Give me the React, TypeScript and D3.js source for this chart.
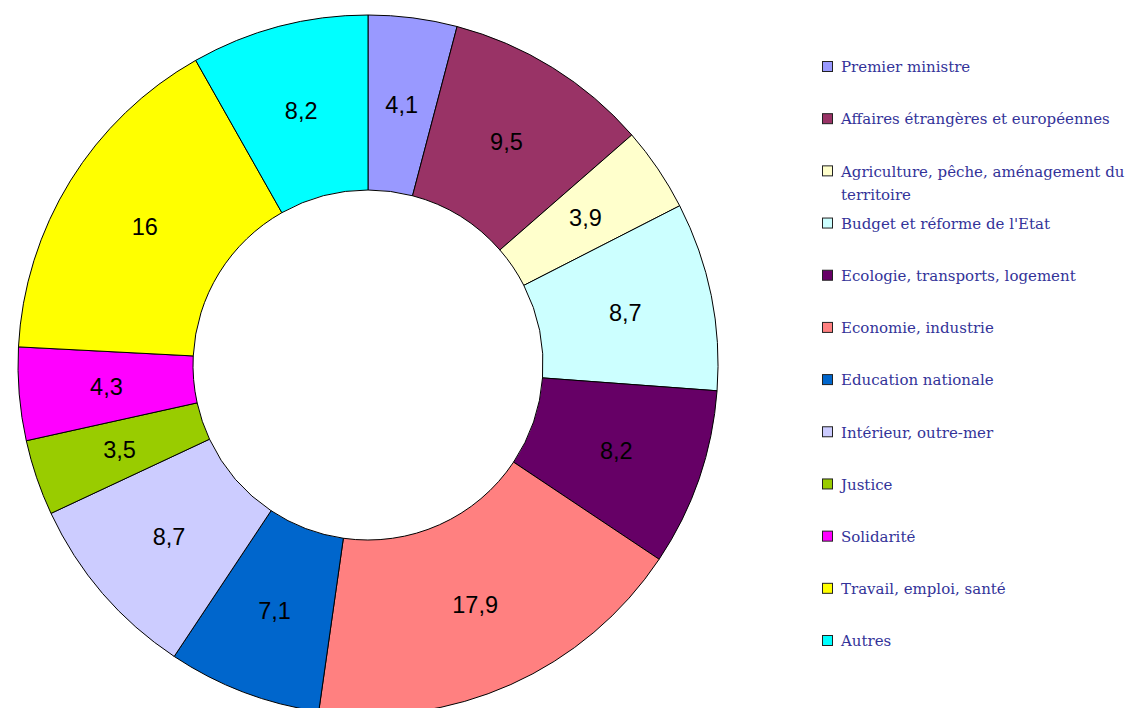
import React from 'react';
import * as d3 from 'd3';

const categories = [
  'Premier ministre',
  'Affaires étrangères et européennes',
  'Agriculture, pêche, aménagement du territoire',
  "Budget et réforme de l'Etat",
  'Ecologie, transports, logement',
  'Economie, industrie',
  'Education nationale',
  'Intérieur, outre-mer',
  'Justice',
  'Solidarité',
  'Travail, emploi, santé',
  'Autres',
];
const values = [4.1, 9.5, 3.9, 8.7, 8.2, 17.9, 7.1, 8.7, 3.5, 4.3, 16, 8.2];
const valueLabels = ['4,1', '9,5', '3,9', '8,7', '8,2', '17,9', '7,1', '8,7', '3,5', '4,3', '16', '8,2'];
const colors = [
  '#9999FF', '#993366', '#FFFFCC', '#CCFFFF', '#660066', '#FF8080',
  '#0066CC', '#CCCCFF', '#99CC00', '#FF00FF', '#FFFF00', '#00FFFF',
];
// legend lines (wrapped as in the original)
const legendLines = [
  ['Premier ministre'],
  ['Affaires étrangères et européennes'],
  ['Agriculture, pêche, aménagement du', 'territoire'],
  ["Budget et réforme de l'Etat"],
  ['Ecologie, transports, logement'],
  ['Economie, industrie'],
  ['Education nationale'],
  ['Intérieur, outre-mer'],
  ['Justice'],
  ['Solidarité'],
  ['Travail, emploi, santé'],
  ['Autres'],
];

const W = 1132;
const H = 708;
const CX = 368;
const CY = 365;
const R_OUT = 350;
const R_IN = 175;

export default function App() {
  const pie = d3.pie<number>().sort(null).value(d => d)(values);
  const arc = d3.arc<d3.PieArcDatum<number>>().innerRadius(R_IN).outerRadius(R_OUT);

  const legendY = d3.scalePoint<number>()
    .domain(d3.range(categories.length))
    .range([67, 641]);

  return (
    <div style={{ position: 'absolute', left: 0, top: 0 }}>
      <svg width={W} height={H} style={{ display: 'block', background: '#fff' }}>
        <g transform={`translate(${CX},${CY})`}>
          {pie.map((p, i) => (
            <path key={i} d={arc(p) || ''} fill={colors[i]} stroke="#000" strokeWidth={1} />
          ))}
          {pie.map((p, i) => {
            const [x, y] = arc.centroid(p);
            return (
              <text key={'l' + i} x={x} y={y} dy="0.35em" textAnchor="middle"
                fontFamily="'Liberation Sans', Arial, sans-serif" fontSize={23.5} fill="#000">
                {valueLabels[i]}
              </text>
            );
          })}
        </g>
        <g>
          {legendLines.map((lines, i) => {
            const y = legendY(i) as number;
            return (
              <g key={'g' + i}>
                <rect x={822.5} y={y - 5.5} width={10} height={10} fill={colors[i]} stroke="#222" strokeWidth={1} />
                {lines.map((t, j) => (
                  <text key={j} x={841} y={y + j * 23} dy="0.35em"
                    fontFamily="'DejaVu Serif', 'Liberation Serif', serif" fontSize={15} fill="#333399">
                    {t}
                  </text>
                ))}
              </g>
            );
          })}
        </g>
      </svg>
    </div>
  );
}
